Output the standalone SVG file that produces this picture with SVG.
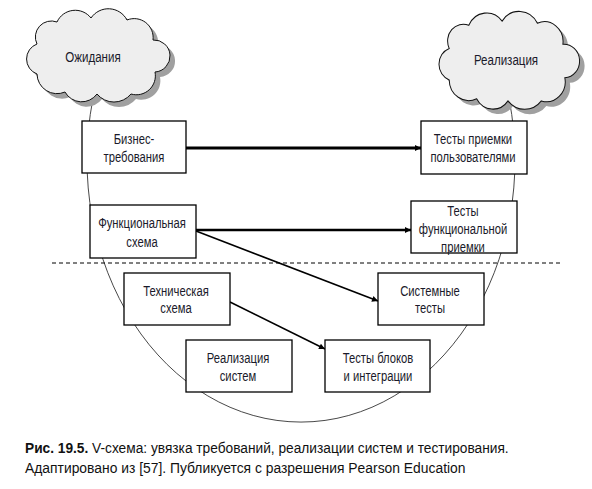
<svg xmlns="http://www.w3.org/2000/svg" xmlns:xlink="http://www.w3.org/1999/xlink" width="592" height="489" viewBox="0 0 592 489">
<style>
.box{fill:#fff;stroke:#000;stroke-width:1.3}
.t{font-family:"Liberation Sans",Arial,sans-serif;font-size:15px;fill:#1a1a2a;text-anchor:middle}
.cap{font-family:"Liberation Sans",Arial,sans-serif;font-size:15px;fill:#111}
.arc{fill:none;stroke:#333;stroke-width:0.9}
.cloud{fill:#eeeeee;stroke:#111;stroke-width:1}
.shadow{fill:#a0a0a0}
.thick{stroke:#000;stroke-width:3;fill:none}
.mid{stroke:#000;stroke-width:2.4;fill:none}
.thin{stroke:#000;stroke-width:1.6;fill:none}
</style>
<defs>
<path id="cl" d="M-60,18 A16,16 0 0 1 -60,-12 A16,16 0 0 1 -40,-34 A20,20 0 0 1 -6,-38 A21,21 0 0 1 30,-36 A19,19 0 0 1 56,-16 A16,16 0 0 1 58,16 A19,19 0 0 1 34,38 A22,22 0 0 1 0,38 A19,19 0 0 1 -32,36 A20,20 0 0 1 -60,18 Z"/>
<marker id="ah" viewBox="0 0 10 10" refX="10" refY="5" markerWidth="8" markerHeight="6" markerUnits="userSpaceOnUse" orient="auto">
<path d="M0,0 L10,5 L0,10 Z" fill="#000"/>
</marker>
</defs>
<rect width="592" height="489" fill="#fff"/>
<path class="arc" d="M92.7,100 A214,262 0 1 0 509.3,100"/>
<line x1="52" y1="263" x2="560" y2="263" stroke="#000" stroke-width="1" stroke-dasharray="4,3"/>
<g id="cloud-expect">
<use xlink:href="#cl" class="shadow" transform="translate(102,61)"/>
<use xlink:href="#cl" class="cloud" transform="translate(97,56)"/>
<text class="t" transform="translate(93,62) scale(0.77,1)">Ожидания</text>
</g>
<g id="cloud-real">
<use xlink:href="#cl" class="shadow" transform="translate(513,66) scale(0.98,1.05)"/>
<use xlink:href="#cl" class="cloud" transform="translate(508,61) scale(0.98,1.05)"/>
<text class="t" transform="translate(506,65) scale(0.77,1)">Реализация</text>
</g>
<g id="connectors">
<line class="thick" x1="186" y1="148" x2="421" y2="148" marker-end="url(#ah)"/>
<line class="mid" x1="196" y1="230" x2="411" y2="230" marker-end="url(#ah)"/>
<line class="thin" x1="196" y1="231" x2="378" y2="301" marker-end="url(#ah)"/>
<line class="thin" x1="230" y1="302" x2="325" y2="349" marker-end="url(#ah)"/>
</g>
<g id="biz">
<rect class="box" x="82" y="121" width="104" height="52"/>
<text class="t" transform="translate(134,144) scale(0.75,1)">Бизнес-</text>
<text class="t" transform="translate(134,162) scale(0.75,1)">требования</text>
</g>
<g id="uat">
<rect class="box" x="421" y="121" width="106" height="53"/>
<text class="t" transform="translate(473,144) scale(0.75,1)">Тесты приемки</text>
<text class="t" transform="translate(473,162) scale(0.75,1)">пользователями</text>
</g>
<g id="func">
<rect class="box" x="90" y="205" width="106" height="53"/>
<text class="t" transform="translate(142,228) scale(0.75,1)">Функциональная</text>
<text class="t" transform="translate(142,247) scale(0.75,1)">схема</text>
</g>
<g id="fat">
<rect class="box" x="411" y="201" width="106" height="52"/>
<text class="t" transform="translate(463,216) scale(0.75,1)">Тесты</text>
<text class="t" transform="translate(463,234) scale(0.75,1)">функциональной</text>
<text class="t" transform="translate(463,252) scale(0.75,1)">приемки</text>
</g>
<g id="tech">
<rect class="box" x="124" y="273" width="106" height="52"/>
<text class="t" transform="translate(176,296) scale(0.75,1)">Техническая</text>
<text class="t" transform="translate(176,313) scale(0.75,1)">схема</text>
</g>
<g id="sys">
<rect class="box" x="378" y="273" width="106" height="52"/>
<text class="t" transform="translate(430,296) scale(0.75,1)">Системные</text>
<text class="t" transform="translate(430,313) scale(0.75,1)">тесты</text>
</g>
<g id="impl">
<rect class="box" x="186" y="340" width="106" height="52"/>
<text class="t" transform="translate(238,363) scale(0.75,1)">Реализация</text>
<text class="t" transform="translate(238,381) scale(0.75,1)">систем</text>
</g>
<g id="unit">
<rect class="box" x="325" y="340" width="105" height="52"/>
<text class="t" transform="translate(378,363) scale(0.75,1)">Тесты блоков</text>
<text class="t" transform="translate(378,381) scale(0.75,1)">и интеграции</text>
</g>
<g id="caption">
<text class="cap" transform="translate(25,453) scale(0.915,1)"><tspan font-weight="bold">Рис. 19.5.</tspan> V-схема: увязка требований, реализации систем и тестирования.</text>
<text class="cap" transform="translate(25,473) scale(0.925,1)">Адаптировано из [57]. Публикуется с разрешения Pearson Education</text>
</g>
</svg>
